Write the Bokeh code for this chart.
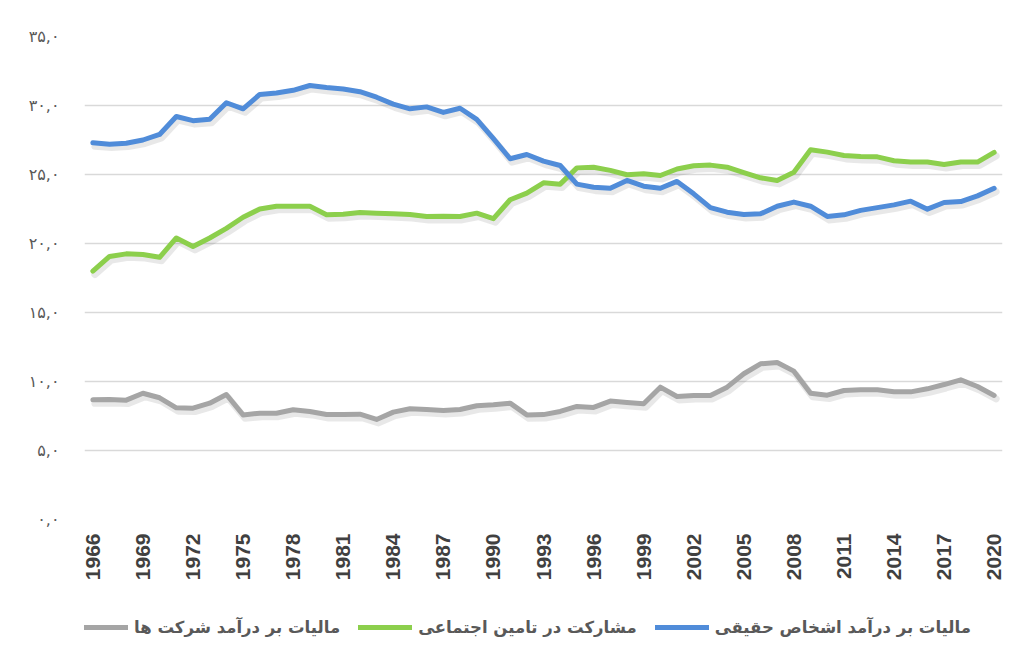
import math
from bokeh.plotting import figure
from bokeh.layouts import column
from bokeh.models import FixedTicker, Legend, LegendItem, Range1d, ColumnDataSource
from bokeh.transform import dodge
from bokeh.embed import file_html
from bokeh.resources import INLINE

years = list(range(1966, 2021))

personal = [27.3, 27.2, 27.27, 27.5, 27.9, 29.2, 28.9, 29.0, 30.2, 29.76,
            30.8, 30.9, 31.1, 31.45, 31.3, 31.2, 31.0, 30.6, 30.1, 29.76,
            29.9, 29.5, 29.8, 29.0, 27.6,
            26.14, 26.45, 25.97, 25.65, 24.3, 24.08, 24.0, 24.57, 24.15, 24.0,
            24.5, 23.6, 22.6, 22.27, 22.1, 22.15, 22.7, 23.0, 22.7, 21.96,
            22.08, 22.4, 22.6, 22.8, 23.07, 22.49, 22.97, 23.04, 23.45, 24.0]

social = [18.0, 19.06, 19.25, 19.2, 19.0, 20.4, 19.78, 20.4, 21.1, 21.9,
          22.5, 22.7, 22.7, 22.7, 22.08, 22.12, 22.25, 22.2, 22.15, 22.1,
          21.96, 21.98, 21.96, 22.2, 21.8,
          23.17, 23.65, 24.4, 24.3, 25.48, 25.53, 25.3, 24.98, 25.05, 24.93,
          25.4, 25.63, 25.68, 25.53, 25.14, 24.76, 24.57, 25.17, 26.79, 26.62,
          26.38, 26.3, 26.28, 26.0, 25.9, 25.9, 25.72, 25.9, 25.9, 26.6]

corporate = [8.67, 8.7, 8.65, 9.15, 8.82, 8.09, 8.07, 8.43, 9.06, 7.58,
             7.7, 7.7, 7.95, 7.83, 7.61, 7.61, 7.63, 7.25, 7.78, 8.02,
             7.97, 7.9, 7.97, 8.24, 8.31,
             8.43, 7.58, 7.6, 7.83, 8.19, 8.12, 8.58, 8.48, 8.38, 9.59,
             8.91, 8.99, 8.99, 9.59, 10.56, 11.28, 11.38, 10.75, 9.15, 9.01,
             9.35, 9.4, 9.4, 9.25, 9.25, 9.47, 9.78, 10.12, 9.64, 8.99]

x_ticks = list(range(1966, 2021, 3))
y_ticks = [0, 5, 10, 15, 20, 25, 30, 35]
y_labels = ["۰,۰", "۵,۰", "۱۰,۰", "۱۵,۰", "۲۰,۰", "۲۵,۰", "۳۰,۰", "۳۵,۰"]

name_personal = "مالیات بر درآمد اشخاص حقیقی"
name_social = "مشارکت در تامین اجتماعی"
name_corporate = "مالیات بر درآمد شرکت ها"

c_personal = "#508cd9"
c_social = "#8ccf4c"
c_corporate = "#a5a5a5"

src = ColumnDataSource(dict(year=years, personal=personal, social=social,
                            corporate=corporate))

p = figure(width=1030, height=600, output_backend="svg", toolbar_location=None,
           x_range=Range1d(1965.5, 2020.5), y_range=Range1d(0, 35),
           min_border_left=84, min_border_right=28, min_border_top=36,
           min_border_bottom=81)
p.outline_line_color = None
p.background_fill_color = "white"
p.border_fill_color = "white"

p.xgrid.grid_line_color = None
p.ygrid.grid_line_color = "#d9d9d9"
p.ygrid.grid_line_width = 1.5

p.xaxis.ticker = FixedTicker(ticks=x_ticks)
p.xaxis.major_label_orientation = math.pi / 2
p.xaxis.major_label_text_font = "Liberation Sans"
p.xaxis.major_label_text_font_style = "bold"
p.xaxis.major_label_text_font_size = "21px"
p.xaxis.major_label_text_color = "#404040"
p.xaxis.major_label_standoff = 8
p.xaxis.axis_line_color = None
p.xaxis.major_tick_line_color = None
p.xaxis.minor_tick_line_color = None

p.yaxis.ticker = FixedTicker(ticks=y_ticks)
p.yaxis.major_label_overrides = {t: l for t, l in zip(y_ticks, y_labels)}
p.yaxis.major_label_text_font = "DejaVu Sans"
p.yaxis.major_label_text_font_size = "16px"
p.yaxis.major_label_text_color = "#595959"
p.yaxis.major_label_standoff = 19
p.yaxis.axis_line_color = None
p.yaxis.major_tick_line_color = None
p.yaxis.minor_tick_line_color = None

# soft drop shadows (offset through the library's own scales)
for col in ["corporate", "social", "personal"]:
    p.line(x=dodge("year", 0.12, range=p.x_range), y=dodge(col, -0.25, range=p.y_range),
           source=src, line_color="black", line_alpha=0.09, line_width=7,
           line_join="round", line_cap="round")

p.line("year", "corporate", source=src, line_color=c_corporate, line_width=5,
       line_join="round", line_cap="round")
p.line("year", "social", source=src, line_color=c_social, line_width=5,
       line_join="round", line_cap="round")
p.line("year", "personal", source=src, line_color=c_personal, line_width=5,
       line_join="round", line_cap="round")

# legend strip below the chart (its lines sit outside its own visible range)
lg = figure(width=1030, height=59, output_backend="svg", toolbar_location=None,
            x_range=Range1d(0, 1), y_range=Range1d(0, 1),
            x_axis_location=None, y_axis_location=None,
            min_border_left=0, min_border_right=0, min_border_top=0, min_border_bottom=0)
lg.grid.visible = False
lg.outline_line_color = None
lg.background_fill_color = "white"
lg.border_fill_color = "white"
l_corp = lg.line("year", "corporate", source=src, line_color=c_corporate, line_width=5, line_cap="round")
l_soc = lg.line("year", "social", source=src, line_color=c_social, line_width=5, line_cap="round")
l_pers = lg.line("year", "personal", source=src, line_color=c_personal, line_width=5, line_cap="round")

legend = Legend(items=[LegendItem(label=name_corporate, renderers=[l_corp]),
                       LegendItem(label=name_social, renderers=[l_soc]),
                       LegendItem(label=name_personal, renderers=[l_pers])],
                orientation="horizontal", location=(-10, 22))
legend.label_text_font = "DejaVu Sans"
legend.label_text_font_size = "16.5px"
legend.label_text_font_style = "bold"
legend.label_text_color = "#595959"
legend.glyph_width = 54
legend.glyph_height = 20
legend.label_standoff = 6
legend.spacing = 18
legend.border_line_color = None
legend.background_fill_alpha = 0
legend.margin = 0
legend.padding = 4
lg.add_layout(legend, "center")

layout = column(p, lg, spacing=0)
open("out.html", "w").write(file_html(layout, INLINE))
